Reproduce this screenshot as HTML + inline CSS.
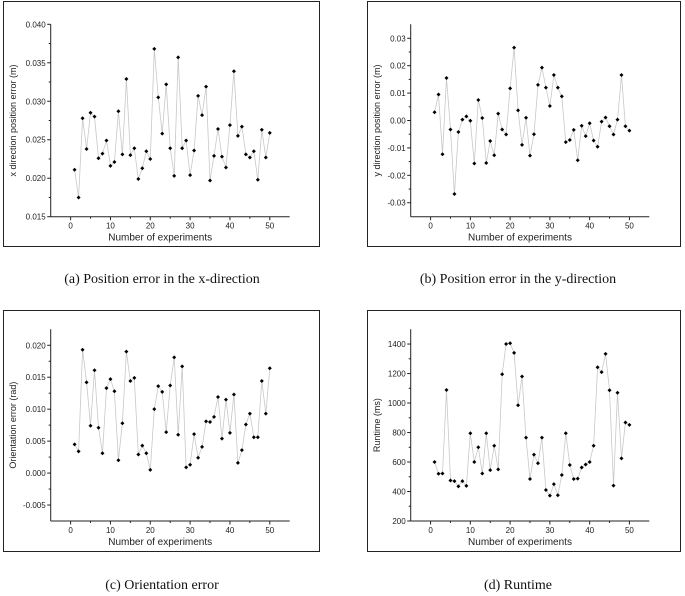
<!DOCTYPE html>
<html><head><meta charset="utf-8"><style>
html,body{margin:0;padding:0;background:#fff;}
svg{display:block;}
text{font-family:"Liberation Sans",Arial,sans-serif;fill:#222;}
.cap{font-family:"Liberation Serif",serif;font-size:14px;fill:#111;}
</style></head><body>
<svg id="s" width="685" height="596" viewBox="0 0 685 596" xmlns="http://www.w3.org/2000/svg">
<rect x="3.5" y="1.5" width="316" height="245" fill="none" stroke="#222" stroke-width="1"/>
<rect x="367.5" y="1.5" width="313" height="245" fill="none" stroke="#222" stroke-width="1"/>
<rect x="3.5" y="310.5" width="316" height="241" fill="none" stroke="#222" stroke-width="1"/>
<rect x="367.5" y="310.5" width="313" height="241" fill="none" stroke="#222" stroke-width="1"/>
<text class="cap" x="162" y="283" text-anchor="middle">(a)  Position error in the x-direction</text>
<text class="cap" x="518" y="283" text-anchor="middle">(b)  Position error in the y-direction</text>
<text class="cap" x="162" y="589" text-anchor="middle">(c)  Orientation error</text>
<text class="cap" x="518" y="589" text-anchor="middle">(d)  Runtime</text>
</svg>
<script>
var S=document.getElementById('s'),NS='http://www.w3.org/2000/svg';
function el(t,a,txt){var e=document.createElementNS(NS,t);for(var k in a)e.setAttribute(k,a[k]);if(txt!=null)e.textContent=txt;S.appendChild(e);return e;}
function chart(o){
 var L=o.L,R=o.R,T=o.T,B=o.B;
 var fx=function(x){return L+(x+5)/60*(R-L);};
 var fy=function(v){return B-(v-o.ymin)/(o.ymax-o.ymin)*(B-T);};
 el('line',{x1:L,y1:T,x2:L,y2:B,stroke:'#222','stroke-width':1});
 el('line',{x1:L,y1:B,x2:R,y2:B,stroke:'#222','stroke-width':1});
 for(var x=0;x<=50;x+=5){var px=fx(x);el('line',{x1:px,y1:B,x2:px,y2:B+(x%10?2:3.5),stroke:'#222','stroke-width':1});
  if(x%10==0)el('text',{x:px,y:B+12,'font-size':8,'text-anchor':'middle'},x);}
 var px=fx(-5);
 for(var i=0;i<o.ticks.length;i++){var v=o.ticks[i],py=fy(v);
  el('line',{x1:L-3.5,y1:py,x2:L,y2:py,stroke:'#222','stroke-width':1});
  el('text',{x:L-5,y:py+3,'font-size':8,'text-anchor':'end'},o.fmt(v));
  if(i<o.ticks.length-1){var m=fy(v+(o.ticks[1]-o.ticks[0])/2);el('line',{x1:L-2,y1:m,x2:L,y2:m,stroke:'#222','stroke-width':1});}}
 el('text',{x:(L+R)/2-10,y:B+24,'font-size':10,'text-anchor':'middle'},'Number of experiments');
 var cy=(T+B)/2;
 el('text',{x:o.ylx,y:cy,'font-size':9,'text-anchor':'middle',transform:'rotate(-90 '+o.ylx+' '+cy+')'},o.ylab);
 var pts=o.d.map(function(v,i){return fx(i+1).toFixed(1)+','+fy(v).toFixed(1);});
 el('polyline',{points:pts.join(' '),fill:'none',stroke:'#c8c8c8','stroke-width':0.8});
 o.d.forEach(function(v,i){var x=fx(i+1),y=fy(v);
  el('path',{d:'M'+(x-2)+' '+y+'L'+x+' '+(y-2)+'L'+(x+2)+' '+y+'L'+x+' '+(y+2)+'Z',fill:'#000'});});
}
chart({L:50.7,R:289.7,T:24.3,B:216.7,ymin:0.015,ymax:0.040,ylx:16,ylab:'x direction position error (m)',
 ticks:[0.015,0.020,0.025,0.030,0.035,0.040],fmt:function(v){return v.toFixed(3);},
 d:[0.0211,0.0175,0.0278,0.0238,0.0285,0.0280,0.0226,0.0232,0.0249,0.0216,0.0221,0.0287,0.0231,0.0329,0.0230,0.0239,0.0199,0.0213,0.0235,0.0225,0.0368,0.0305,0.0258,0.0322,0.0239,0.0203,0.0357,0.0239,0.0249,0.0204,0.0236,0.0307,0.0282,0.0319,0.0197,0.0229,0.0264,0.0228,0.0214,0.0269,0.0339,0.0255,0.0267,0.0231,0.0227,0.0235,0.0198,0.0263,0.0227,0.0259]});
chart({L:410.7,R:649.3,T:24.3,B:216.7,ymin:-0.0351,ymax:0.0351,ylx:380,ylab:'y direction position error (m)',
 ticks:[-0.03,-0.02,-0.01,0,0.01,0.02,0.03],fmt:function(v){return v.toFixed(2);},
 d:[0.003,0.0095,-0.0123,0.0155,-0.0033,-0.0268,-0.0042,0.0003,0.0015,-0.0001,-0.0157,0.0075,0.0009,-0.0155,-0.0075,-0.0127,0.0025,-0.0033,-0.0051,0.0117,0.0266,0.0037,-0.0089,0.001,-0.0128,-0.005,0.013,0.0193,0.012,0.0053,0.0166,0.012,0.0088,-0.0079,-0.0071,-0.0034,-0.0145,-0.0019,-0.0057,-0.001,-0.0073,-0.0096,-0.0004,0.0011,-0.0021,-0.0051,0.0003,0.0166,-0.0021,-0.0037]});
chart({L:50.7,R:289.7,T:329.3,B:521,ymin:-0.0075,ymax:0.0225,ylx:16,ylab:'Orientation error (rad)',
 ticks:[-0.005,0,0.005,0.010,0.015,0.020],fmt:function(v){return v.toFixed(3);},
 d:[0.0045,0.0034,0.0193,0.0142,0.0074,0.0161,0.0071,0.0031,0.0133,0.0147,0.0128,0.0020,0.0078,0.0190,0.0144,0.0149,0.0029,0.0043,0.0031,0.0005,0.0100,0.0136,0.0127,0.0064,0.0137,0.0181,0.0060,0.0167,0.0009,0.0013,0.0061,0.0024,0.0041,0.0081,0.0080,0.0088,0.0119,0.0054,0.0115,0.0063,0.0123,0.0016,0.0036,0.0076,0.0093,0.0056,0.0056,0.0144,0.0093,0.0164]});
chart({L:410.7,R:649.3,T:329.3,B:521,ymin:200,ymax:1500,ylx:380,ylab:'Runtime (ms)',
 ticks:[200,400,600,800,1000,1200,1400],fmt:function(v){return v;},
 d:[600,520,522,1088,475,470,435,470,438,795,600,700,522,795,545,710,550,1195,1400,1405,1340,985,1180,765,485,650,592,765,410,372,450,375,512,795,580,485,487,563,583,600,710,1243,1210,1333,1087,440,1070,625,868,852]});
</script>
</body></html>
